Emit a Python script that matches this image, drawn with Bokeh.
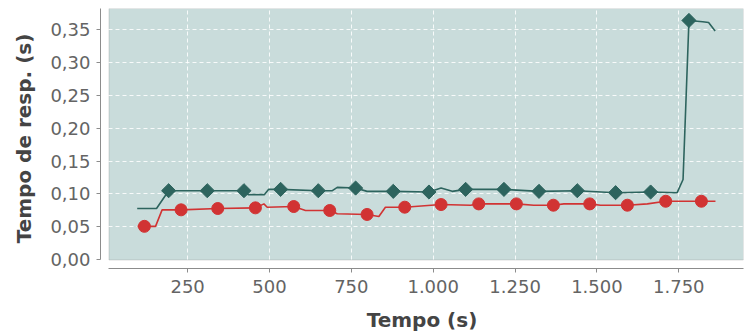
import math

from bokeh.plotting import figure
from bokeh.models import Range1d, FixedTicker, BoxAnnotation
from bokeh.embed import file_html
from bokeh.resources import INLINE

# Response time over the test run (seconds)
green_t = [96, 155, 192, 310, 422, 435, 484, 497, 534, 649, 692, 707, 763, 798, 878,
           987, 1024, 1058, 1099, 1216, 1323, 1440, 1557, 1664, 1745, 1763, 1781,
           1823, 1841, 1861]
green_v = [0.078, 0.078, 0.105, 0.105, 0.105, 0.099, 0.099, 0.107, 0.107, 0.105, 0.105,
           0.110, 0.109, 0.104, 0.104, 0.103, 0.109, 0.104, 0.107, 0.107, 0.104, 0.105,
           0.102, 0.103, 0.102, 0.122, 0.363, 0.361, 0.360, 0.347]

green_mark_t = [192, 310, 422, 534, 649, 763, 878, 987, 1099, 1216, 1323, 1440, 1557,
                1664, 1781]
green_mark_v = [0.105, 0.105, 0.105, 0.107, 0.105, 0.109, 0.104, 0.103, 0.107, 0.107,
                0.104, 0.105, 0.102, 0.103, 0.363]

red_t = [97, 152, 172, 230, 342, 457, 483, 493, 574, 610, 684, 707, 798, 834, 854, 913,
         1024, 1114, 1139, 1254, 1307, 1367, 1399, 1478, 1511, 1593, 1654, 1710, 1819,
         1862]
red_v = [0.051, 0.051, 0.076, 0.076, 0.078, 0.079, 0.085, 0.080, 0.081, 0.075, 0.075,
         0.070, 0.069, 0.066, 0.080, 0.080, 0.084, 0.083, 0.085, 0.085, 0.083, 0.083,
         0.085, 0.085, 0.083, 0.083, 0.085, 0.089, 0.089, 0.089]

red_mark_t = [118, 230, 342, 457, 574, 684, 798, 913, 1024, 1139, 1254, 1367, 1478,
              1593, 1710, 1819]
red_mark_v = [0.051, 0.076, 0.078, 0.079, 0.081, 0.075, 0.069, 0.080, 0.084, 0.085,
              0.085, 0.083, 0.085, 0.083, 0.089, 0.089]

x_ticks = [250, 500, 750, 1000, 1250, 1500, 1750]
x_tick_labels = ["250", "500", "750", "1.000", "1.250", "1.500", "1.750"]
y_ticks = [0.0, 0.05, 0.10, 0.15, 0.20, 0.25, 0.30, 0.35]
y_tick_labels = ["0,00", "0,05", "0,10", "0,15", "0,20", "0,25", "0,30", "0,35"]

# plot area extents (data units); the frame reaches a little further left/down
AREA_X = (9.8, 1947.6)
AREA_Y = (0.0, 0.3811)

GREEN = "#2d645e"
RED = "#d13333"
AREA_BG = "#c9dcdb"
FRAME_GREY = "#8c8c8c"
FONT = "DejaVu Sans"

p = figure(width=749, height=336,
           x_range=Range1d(-16.1, AREA_X[1]), y_range=Range1d(-0.0129, AREA_Y[1]),
           output_backend="svg", toolbar_location=None,
           min_border_left=100, min_border_right=6, min_border_top=8,
           min_border_bottom=68)
p.background_fill_color = "white"
p.border_fill_color = "white"
p.outline_line_color = None

area = BoxAnnotation(left=AREA_X[0], right=AREA_X[1], bottom=AREA_Y[0], top=AREA_Y[1],
                     fill_color=AREA_BG, fill_alpha=1.0, line_color=FRAME_GREY,
                     line_width=1, level="image")
p.add_layout(area)

# axes
p.xaxis.ticker = FixedTicker(ticks=x_ticks)
p.xaxis.major_label_overrides = dict(zip(x_ticks, x_tick_labels))
p.yaxis.ticker = FixedTicker(ticks=y_ticks)
p.yaxis.major_label_overrides = dict(zip(y_ticks, y_tick_labels))
p.xaxis.bounds = AREA_X
p.yaxis.bounds = AREA_Y
p.xaxis.axis_label = "Tempo (s)"
p.yaxis.axis_label = "Tempo de resp. (s)"
for ax in (p.xaxis, p.yaxis):
    ax.axis_line_color = FRAME_GREY
    ax.major_tick_line_color = FRAME_GREY
    ax.major_tick_in = 0
    ax.major_tick_out = 4
    ax.minor_tick_line_color = None
    ax.major_label_text_font = FONT
    ax.major_label_text_font_size = "18px"
    ax.major_label_text_color = "#646464"
    ax.axis_label_text_font = FONT
    ax.axis_label_text_font_size = "20px"
    ax.axis_label_text_font_style = "bold"
    ax.axis_label_text_color = "#444444"
p.xaxis.major_label_standoff = 7
p.yaxis.major_label_standoff = 6
p.xaxis.axis_label_standoff = 12
p.yaxis.axis_label_standoff = 11

# grid inside the plot area only
p.xgrid.cross_bounds = AREA_Y
p.ygrid.cross_bounds = AREA_X
p.ygrid.ticker = FixedTicker(ticks=y_ticks[1:])
for g in (p.xgrid, p.ygrid):
    g.grid_line_color = "white"
    g.grid_line_dash = "4 3"
    g.grid_line_width = 1
    g.grid_line_alpha = 0.85

# series
p.line(green_t, green_v, line_color=GREEN, line_width=1.6)
p.scatter(green_mark_t, green_mark_v, marker="square", angle=math.pi / 4, size=10,
          fill_color=GREEN, line_color=GREEN)
p.line(red_t, red_v, line_color=RED, line_width=1.6)
p.scatter(red_mark_t, red_mark_v, marker="circle", size=12,
          fill_color=RED, line_color=RED)

open("out.html", "w").write(file_html(p, INLINE))
